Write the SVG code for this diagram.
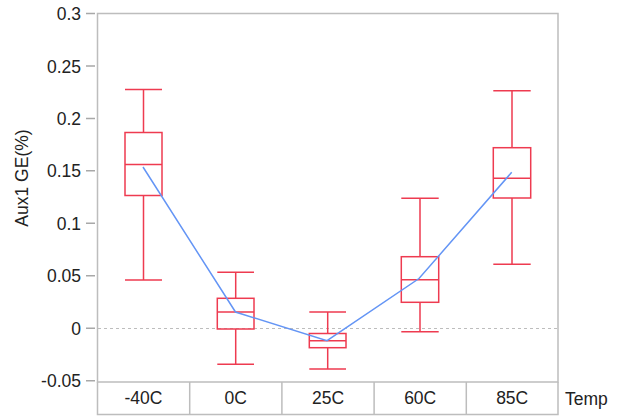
<svg xmlns="http://www.w3.org/2000/svg" width="625" height="416" viewBox="0 0 625 416">
<style>
.ax{stroke:#BDBDBD;stroke-width:1.5;fill:none}
.tk{stroke:#A8A8A8;stroke-width:1.5}
.zero{stroke:#BDBDBD;stroke-width:1;stroke-dasharray:3,3}
.bx{stroke:#EE3B50;stroke-width:1.5;fill:none}
.mean{stroke:#6495F5;stroke-width:1.5;fill:none}
text{font-family:"Liberation Sans",Arial,sans-serif;font-size:17.5px;fill:#222}
.yl{text-anchor:end}
.xl{text-anchor:middle}
</style>
<rect width="625" height="416" fill="#fff"/>
<g id="frame">
<rect class="ax" x="97.5" y="13.5" width="460.5" height="368.5"/>
<path class="ax" d="M97.5 382V414.5H558V382M189.7 382V414.5M281.9 382V414.5M374.1 382V414.5M466.3 382V414.5"/>
<line class="zero" x1="98" y1="328.5" x2="557" y2="328.5"/>
</g>
<g id="y-axis">
<path class="tk" d="M86 13.5H95M86 66H95M86 118.4H95M86 170.8H95M86 223.3H95M86 275.7H95M86 328.2H95M86 380.7H95"/>
<text class="yl" x="81" y="20">0.3</text>
<text class="yl" x="81" y="72.5">0.25</text>
<text class="yl" x="81" y="125">0.2</text>
<text class="yl" x="81" y="177.3">0.15</text>
<text class="yl" x="81" y="229.8">0.1</text>
<text class="yl" x="81" y="282.2">0.05</text>
<text class="yl" x="81" y="334.7">0</text>
<text class="yl" x="81" y="387.2">-0.05</text>
<text transform="translate(28 178) rotate(-90)" text-anchor="middle">Aux1 GE(%)</text>
</g>
<g id="x-axis">
<text class="xl" x="143.5" y="403.5">-40C</text>
<text class="xl" x="235.8" y="403.5">0C</text>
<text class="xl" x="328" y="403.5">25C</text>
<text class="xl" x="420.2" y="403.5">60C</text>
<text class="xl" x="512.2" y="403.5">85C</text>
<text x="565" y="405">Temp</text>
</g>
<g id="box-m40C">
<path class="bx" d="M125 89.5H162M143.5 89.5V132.5M143.5 195.5V280M125 280H162M125 164.5H162"/>
<rect class="bx" x="125" y="132.5" width="37" height="63"/>
</g>
<g id="box-0C">
<path class="bx" d="M217.3 272.3H254M235.7 272.3V298.3M235.7 329V364.3M217.3 364.3H254M217.3 312H254"/>
<rect class="bx" x="217.3" y="298.3" width="36.7" height="30.7"/>
</g>
<g id="box-25C">
<path class="bx" d="M309.3 312H346M327.7 312V333.5M327.7 347.7V369M309.3 369H346M309.3 340.7H346"/>
<rect class="bx" x="309.3" y="333.5" width="36.7" height="14.2"/>
</g>
<g id="box-60C">
<path class="bx" d="M401.3 198.3H438.7M420 198.3V256.7M420 302.3V331.7M401.3 331.7H438.7M401.3 279.7H438.7"/>
<rect class="bx" x="401.3" y="256.7" width="37.4" height="45.6"/>
</g>
<g id="box-85C">
<path class="bx" d="M493.3 90.7H530.7M512 90.7V147.7M512 198V264.3M493.3 264.3H530.7M493.3 178.3H530.7"/>
<rect class="bx" x="493.3" y="147.7" width="37.4" height="50.3"/>
</g>
<g id="connectors">
<polyline class="mean" points="143,167 235.5,312 327,340.7 419,278.5 511.7,172.3"/>
</g>
</svg>
